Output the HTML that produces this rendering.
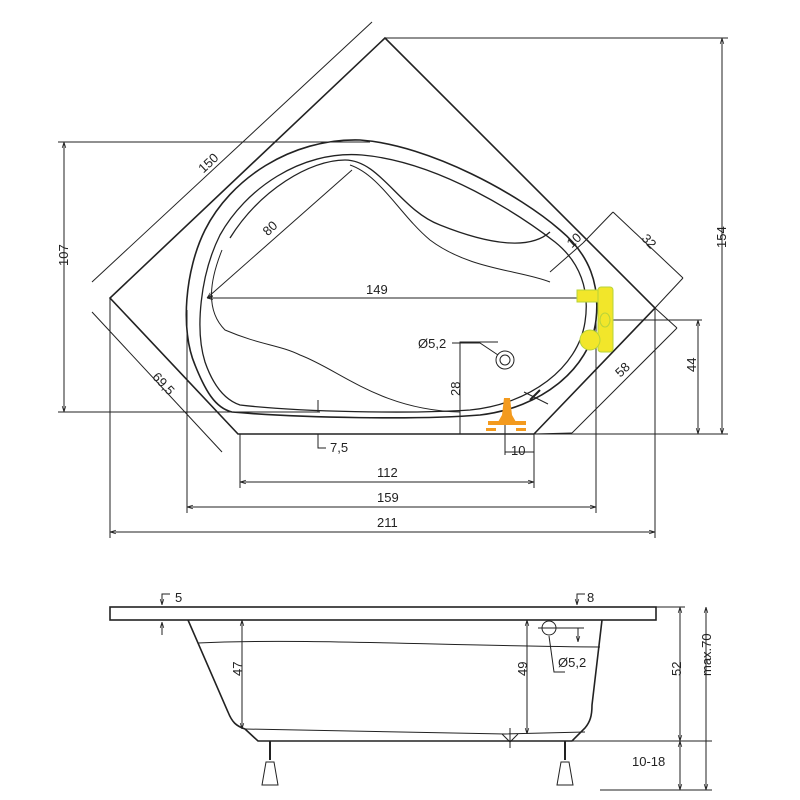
<!DOCTYPE html>
<html><head><meta charset="utf-8"><style>
html,body{margin:0;padding:0;background:#fff;}
svg{display:block;}
text{font-family:"Liberation Sans",sans-serif;font-size:13px;fill:#222;}
</style></head><body>
<svg width="800" height="800" viewBox="0 0 800 800" xmlns="http://www.w3.org/2000/svg">
<defs>
<marker id="a" viewBox="0 0 10 10" refX="10" refY="5" markerWidth="6" markerHeight="6" orient="auto-start-reverse"><path d="M0,2 L10,5 L0,8" fill="none" stroke="#222" stroke-width="1.2"/></marker>
</defs>
<g fill="none" stroke="#222" stroke-width="1">
<path d="M385,38 L110,298 L238,434 L534,434 L655,308 Z" stroke-width="1.6"/>
<line x1="92" y1="282" x2="372" y2="22"/>
<line x1="92" y1="312" x2="222" y2="452"/>
<line x1="613" y1="212" x2="683" y2="278"/>
<line x1="655" y1="308" x2="683" y2="278"/>
<line x1="613" y1="212" x2="583" y2="243"/>
<line x1="677" y1="328" x2="572" y2="433"/>
<line x1="655" y1="308" x2="677" y2="328"/>
<line x1="534" y1="434" x2="572" y2="433"/>
<line x1="385" y1="38" x2="728" y2="38"/>
<line x1="534" y1="434" x2="728" y2="434"/>
<line x1="722" y1="38" x2="722" y2="434" marker-start="url(#a)" marker-end="url(#a)"/>
<line x1="610" y1="320" x2="702" y2="320"/>
<line x1="698" y1="320" x2="698" y2="434" marker-start="url(#a)" marker-end="url(#a)"/>
<line x1="58" y1="142" x2="370" y2="142"/>
<line x1="58" y1="412" x2="320" y2="412"/>
<line x1="64" y1="142" x2="64" y2="412" marker-start="url(#a)" marker-end="url(#a)"/>
<line x1="207" y1="298" x2="580" y2="298" marker-start="url(#a)"/>
<line x1="207" y1="298" x2="352" y2="170" marker-start="url(#a)"/>
<line x1="550" y1="272" x2="583" y2="243"/>
<line x1="240" y1="434" x2="240" y2="488"/>
<line x1="534" y1="434" x2="534" y2="488"/>
<line x1="187" y1="310" x2="187" y2="513"/>
<line x1="596" y1="320" x2="596" y2="513"/>
<line x1="110" y1="298" x2="110" y2="538"/>
<line x1="655" y1="308" x2="655" y2="538"/>
<line x1="240" y1="482" x2="534" y2="482" marker-start="url(#a)" marker-end="url(#a)"/>
<line x1="187" y1="507" x2="596" y2="507" marker-start="url(#a)" marker-end="url(#a)"/>
<line x1="110" y1="532" x2="655" y2="532" marker-start="url(#a)" marker-end="url(#a)"/>
<line x1="318" y1="400" x2="318" y2="412" />
<path d="M318,434 L318,448 L326,448"/>
<line x1="505" y1="420" x2="505" y2="455"/>
<line x1="505" y1="452" x2="534" y2="452"/>
<path d="M498,342 L460,342 L460,434"/>
<circle cx="505" cy="360" r="9"/><circle cx="505" cy="360" r="5"/>
<path d="M452,343 L480,343 L498,355"/>
<path d="M232,412 C300,418 420,420 480,415 C540,408 590,370 596,320 C600,285 590,255 560,230 C520,195 430,145 360,140 C290,138 230,180 205,230 C185,270 180,330 195,365 C205,390 215,408 232,412 Z" stroke-width="1.6"/>
<path d="M240,405 C300,412 410,414 470,410 C530,404 578,368 585,322 C590,290 580,262 555,242 C520,215 440,162 362,155 C300,150 245,190 220,235 C200,275 195,330 205,362 C213,385 225,400 240,405 Z" stroke-width="1.3"/>
<path d="M230,238 C260,190 310,160 345,160 C380,160 400,210 440,225 C490,245 530,250 550,232" stroke-width="1.3"/>
<path d="M222,250 C210,280 205,310 225,330 C260,345 280,345 300,355 C340,370 380,410 460,412" stroke-width="1"/>
<path d="M350,165 C380,175 400,215 430,240 C470,270 520,270 550,282" stroke-width="1"/>
<line x1="530" y1="400" x2="540" y2="390" stroke-width="2"/>
<line x1="524" y1="392" x2="548" y2="404"/>
<rect x="110" y="607" width="546" height="13" stroke-width="1.6"/>
<path d="M188,620 L228,712 C232,722 236,726 245,729 L258,741 L572,741 L585,728 C590,722 592,716 592,705 L602,620" stroke-width="1.6"/>
<path d="M245,729 L505,734 L585,732"/>
<path d="M198,643 C300,638 450,646 600,647"/>
<line x1="242" y1="620" x2="242" y2="729" marker-start="url(#a)" marker-end="url(#a)"/>
<line x1="527" y1="620" x2="527" y2="734" marker-start="url(#a)" marker-end="url(#a)"/>
<line x1="656" y1="607" x2="685" y2="607"/>
<line x1="572" y1="741" x2="712" y2="741"/>
<line x1="600" y1="790" x2="712" y2="790"/>
<line x1="680" y1="607" x2="680" y2="741" marker-start="url(#a)" marker-end="url(#a)"/>
<line x1="706" y1="607" x2="706" y2="790" marker-start="url(#a)" marker-end="url(#a)"/>
<line x1="680" y1="741" x2="680" y2="790" marker-start="url(#a)" marker-end="url(#a)"/>
<path d="M162,605 L162,594 L170,594" marker-start="url(#a)"/>
<line x1="162" y1="622" x2="162" y2="635" marker-start="url(#a)"/>
<path d="M577,605 L577,594 L585,594" marker-start="url(#a)"/>
<circle cx="549" cy="628" r="7"/>
<line x1="538" y1="628" x2="584" y2="628"/>
<line x1="578" y1="628" x2="578" y2="642" marker-end="url(#a)"/>
<path d="M549,636 L554,672 L565,672"/>
<line x1="510" y1="728" x2="510" y2="748"/>
<path d="M502,734 L510,742 L518,734"/>
<line x1="270" y1="741" x2="270" y2="760" stroke-width="2"/>
<line x1="565" y1="741" x2="565" y2="760" stroke-width="2"/>
<path d="M266,762 L274,762 L278,785 L262,785 Z"/>
<path d="M561,762 L569,762 L573,785 L557,785 Z"/>
</g>
<g fill="#f2e62a" stroke="#b7d33a" stroke-width="1">
<rect x="577" y="290" width="24" height="12"/>
<rect x="598" y="287" width="15" height="65" rx="3"/>
<circle cx="590" cy="340" r="10"/>
<ellipse cx="605" cy="320" rx="5" ry="7"/>
</g>
<g fill="#f39a1e">
<path d="M504,398 L510,398 L512,415 L516,422 L498,422 L502,415 Z"/>
<rect x="488" y="421" width="38" height="4"/>
<rect x="486" y="428" width="10" height="3"/>
<rect x="516" y="428" width="10" height="3"/>
</g>
<g>
<text x="200" y="175" transform="rotate(-43 200 170)">150</text>
<text x="262" y="234" transform="rotate(-43 268 228)">80</text>
<text x="366" y="294">149</text>
<text x="566" y="246" transform="rotate(-43 572 240)">10</text>
<text x="643" y="246" transform="rotate(47 650 240)">32</text>
<text x="614" y="374" transform="rotate(-43 622 368)">58</text>
<text x="154" y="388" transform="rotate(47 165 380)">69,5</text>
<text x="719" y="255" transform="rotate(-90 719 248)">154</text>
<text x="694" y="382" transform="rotate(-90 690 376)">44</text>
<text x="60" y="282" transform="rotate(-90 56 270)">107</text>
<text x="418" y="348">Ø5,2</text>
<text x="456" y="408" transform="rotate(-90 452 400)">28</text>
<text x="330" y="452">7,5</text>
<text x="511" y="455">10</text>
<text x="377" y="477">112</text>
<text x="377" y="502">159</text>
<text x="377" y="527">211</text>
<text x="175" y="602">5</text>
<text x="587" y="602">8</text>
<text x="558" y="667">Ø5,2</text>
<text x="238" y="688" transform="rotate(-90 234 680)">47</text>
<text x="523" y="688" transform="rotate(-90 519 680)">49</text>
<text x="677" y="688" transform="rotate(-90 673 680)">52</text>
<text x="703" y="692" transform="rotate(-90 699 680)">max.70</text>
<text x="632" y="766">10-18</text>
</g>
</svg>
</body></html>
